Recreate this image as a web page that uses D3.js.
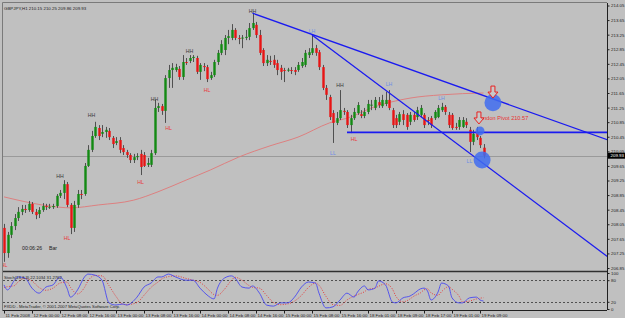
<!DOCTYPE html>
<html>
<head>
<meta charset="utf-8">
<script src="https://cdnjs.cloudflare.com/ajax/libs/d3/7.8.5/d3.min.js"></script>
<style>
  body { margin: 0; background: #c0c0c0; }
  svg { display: block; font-family: "Liberation Sans", Arial, sans-serif; }
</style>
</head>
<body>
<svg id="mainSvg"></svg>
<script>
// GBPJPY H1 candles, 11 Feb 16:00 .. 19 Feb 10:00
const opens = [
  207.95,207.26,207.76,208.00,208.22,208.39,208.47,208.44,208.61,208.39,
  208.33,208.44,208.55,208.52,208.52,208.55,208.83,208.91,209.15,208.58,
  207.95,208.58,208.88,208.88,209.65,210.09,210.47,210.69,210.53,210.58,
  210.61,210.42,210.28,210.36,210.14,210.03,209.95,209.81,209.89,209.98,
  209.95,209.68,209.68,210.00,211.24,211.29,211.16,212.06,212.28,212.28,
  212.31,212.09,212.50,212.53,212.61,212.61,212.23,212.39,212.36,212.06,
  212.14,212.50,212.75,212.83,213.16,213.16,213.38,213.16,213.16,213.16,
  213.19,213.43,213.52,213.24,212.83,212.47,212.53,212.56,212.47,212.34,
  212.28,212.28,212.28,212.28,212.28,212.39,212.42,212.69,212.75,212.88,
  212.77,212.36,211.79,211.54,211.10,210.83,210.96,211.16,211.13,210.77,
  210.96,211.10,211.07,211.02,211.13,211.32,211.24,211.40,211.29,211.35,
  211.46,211.18,210.96,210.86,211.07,211.05,210.86,211.05,210.99,211.05,
  211.05,210.91,210.96,210.96,210.99,211.18,211.27,211.05,211.05,210.72,
  210.72,210.72,210.86,210.64,210.31,210.58,210.42,210.15];
const highs = [
  208.06,207.84,208.11,208.33,208.52,208.58,208.58,208.69,208.66,208.47,
  208.52,208.63,208.61,208.61,208.61,208.88,208.99,209.26,209.21,208.63,
  208.69,208.99,208.99,209.73,210.22,210.61,210.86,210.77,210.77,210.72,
  210.69,210.47,210.44,210.44,210.22,210.09,210.00,209.98,210.00,210.09,
  210.03,209.87,210.09,211.46,211.38,211.35,212.14,212.42,212.47,212.45,
  212.39,212.69,212.61,212.69,212.69,212.67,212.47,212.47,212.42,212.23,
  212.56,212.83,213.10,213.24,213.38,213.54,213.43,213.24,213.24,213.38,
  213.57,213.84,213.60,213.38,212.88,212.69,212.67,212.69,212.56,212.42,
  212.34,212.34,212.36,212.36,212.50,212.61,212.83,212.88,213.24,212.97,
  212.83,212.42,211.87,211.60,211.18,211.13,211.73,211.24,211.18,211.05,
  211.24,211.40,211.18,211.24,211.46,211.46,211.54,211.54,211.60,211.68,
  211.73,211.24,211.05,211.13,211.18,211.10,211.13,211.13,211.27,211.32,
  211.10,210.99,211.02,211.18,211.32,211.38,211.32,211.13,211.10,210.83,
  210.99,210.99,210.96,210.72,210.64,210.72,210.47,210.25];
const lows = [
  207.02,207.13,207.67,207.89,208.14,208.30,208.36,208.39,208.33,208.19,
  208.22,208.39,208.44,208.47,208.47,208.50,208.77,208.74,208.52,207.78,
  207.84,208.50,208.74,208.83,209.62,210.03,210.42,210.36,210.44,210.42,
  210.36,210.14,210.22,210.00,209.95,209.87,209.73,209.73,209.81,209.40,
  209.62,209.62,209.62,209.95,211.13,211.05,210.83,211.79,211.79,212.23,
  212.01,212.01,212.42,212.47,212.50,212.17,212.01,212.25,211.95,212.01,
  212.09,212.42,212.69,212.69,212.99,213.10,213.10,212.99,212.88,213.10,
  213.10,213.38,213.16,212.69,212.39,212.39,212.42,212.34,212.14,212.01,
  211.95,212.23,212.17,212.14,212.23,212.34,212.36,212.61,212.69,212.67,
  212.28,211.73,211.46,210.91,210.28,210.77,210.91,211.05,210.69,210.55,
  210.91,211.05,210.96,210.96,211.07,211.18,211.18,211.24,211.24,211.29,
  211.18,210.69,210.69,210.77,210.77,210.64,210.77,210.86,210.91,210.99,
  210.69,210.77,210.69,210.91,210.96,211.13,211.05,210.69,210.64,210.64,
  210.64,210.69,210.69,210.03,210.22,210.36,210.14,209.86];
const closes = [
  207.26,207.76,208.00,208.22,208.39,208.47,208.44,208.61,208.39,208.30,
  208.44,208.55,208.52,208.53,208.55,208.83,208.91,209.15,208.58,207.95,
  208.58,208.88,208.87,209.65,210.09,210.47,210.72,210.47,210.58,210.64,
  210.44,210.25,210.33,210.09,210.03,209.95,209.81,209.89,209.92,209.62,
  209.65,209.73,210.00,211.24,211.29,211.16,212.06,212.28,212.34,212.36,
  212.09,212.50,212.49,212.61,212.64,212.23,212.42,212.36,212.03,212.14,
  212.50,212.75,212.99,213.16,213.21,213.38,213.16,213.15,213.17,213.19,
  213.43,213.57,213.24,212.75,212.47,212.56,212.52,212.42,212.28,212.23,
  212.27,212.29,212.27,212.23,212.42,212.50,212.75,212.77,212.88,212.75,
  212.36,211.79,211.60,210.99,210.83,210.96,211.18,211.15,210.77,210.96,
  211.13,211.32,211.02,211.13,211.35,211.33,211.46,211.32,211.46,211.46,
  211.24,210.77,210.77,211.07,210.91,210.72,211.05,210.91,211.18,211.24,
  210.77,210.90,210.77,211.13,211.24,211.27,211.13,210.77,210.69,210.71,
  210.91,210.91,210.77,210.31,210.53,210.44,210.22,209.93];

// moving average (pink line), sampled along the bars
const maBars   = [0, 4, 13, 19, 27, 37, 44, 52, 59, 67, 76, 84, 93, 99, 105, 116, 125, 137];
const maValues = [208.80,208.71,208.55,208.50,208.58,208.71,208.94,209.26,209.54,209.89,
                  210.20,210.44,210.83,210.99,211.24,211.51,211.60,211.65];

// Stochastic(13,3,3): main (blue) and signal (red dotted)
const stochBars   = [0,1,3,4,6,8,10,12,14,16,18,19,21,23,24,26,28,30,32,34,35,38,40,42,44,45,47,49,52,54,
                     56,58,60,61,63,65,66,68,70,71,73,75,77,79,81,83,85,87,89,90,92,94,96,98,100,101,103,104,106,107,
                     109,111,112,114,116,117,119,120,121,122,124,125,127,128,130,131,133,135,136,137];
const stochMain   = [67,53,80,89,86,58,44,61,67,89,58,33,53,89,97,94,80,17,11,14,11,33,61,72,89,89,97,89,80,80,
                     58,39,28,58,86,92,86,61,58,64,44,11,8,17,17,33,61,75,72,44,3,6,25,44,33,47,64,53,58,78,
                     67,19,17,31,36,42,56,58,50,25,47,72,64,31,17,17,31,33,25,22.1];
const stochSignal = [60,62,65,75,85,78,60,52,58,72,75,60,42,60,78,93,92,65,35,13,12,18,38,60,75,83,90,92,85,80,
                     74,58,40,38,55,80,88,80,65,60,58,38,18,12,14,22,38,60,72,66,35,12,10,25,36,40,48,55,58,63,
                     70,55,35,20,28,35,45,53,56,45,38,48,62,55,36,20,22,28,30,31.3];

// swing labels
const swingText  = ["HL","HH","HL","HH","HL","HH","HL","HH","HL","HH","LH","HH","LL","HL","LH","LH","LL"];
const swingBar   = [0, 16, 18, 25, 39, 43, 47, 53, 58, 71, 88, 96, 94, 100, 110, 125, 133];
const swingPrice = [206.93,209.37,207.67,211.05,209.21,211.49,210.69,212.80,211.73,213.90,
                    213.35,211.87,210.00,210.39,211.90,211.51,209.79];

// trend lines [bar, price] -> [bar, price]
const trendFrom = [[71, 213.84], [88, 213.24], [98, 210.57]];
const trendTo   = [[172.6, 210.36], [172.6, 207.15], [172.6, 210.57]];

const markerBar   = [139.7, 136.6, 136.0];
const markerPrice = [211.38, 209.81, 210.61];
const arrowBar    = [139.7, 135.7];
const arrowPrice  = [211.84, 211.13];

const priceTicks = [214.05,213.65,213.25,212.85,212.45,212.05,211.65,211.25,210.85,210.45,
                    210.05,209.65,209.25,208.85,208.45,208.05,207.65,207.25,206.85];
const stochTicks = [100, 80, 20, 0];
const timeBars   = [0,8,16,24,32,40,48,56,64,72,80,88,96,104,112,120,128,136];
const timeLabels = ["11 Feb 2008","12 Feb 00:00","12 Feb 08:00","12 Feb 16:00","13 Feb 00:00","13 Feb 08:00",
                    "13 Feb 16:00","14 Feb 00:00","14 Feb 08:00","14 Feb 16:00","15 Feb 00:00","15 Feb 08:00",
                    "15 Feb 16:00","18 Feb 01:00","18 Feb 09:00","18 Feb 17:00","19 Feb 01:00","19 Feb 09:00"];
const lastPrice = 209.93;
const pivotText = "London Pivot 210.57";

const W = 625, H = 318;
const box = { l: 3, t: 3, r: 607, sep: 271, b: 310 };

const svg = d3.select('#mainSvg').attr('width', W).attr('height', H);
svg.append('rect').attr('width', W).attr('height', H).attr('fill', '#c0c0c0');

const x = d3.scaleLinear().domain([0, 137]).range([4, 483.5]);
const y = d3.scaleLinear().domain([206.85, 214.05]).range([268, 5.5]);
const ys = d3.scaleLinear().domain([0, 100]).range([309, 273]);

svg.append('clipPath').attr('id', 'clipMain')
  .append('rect').attr('x', box.l).attr('y', box.t).attr('width', box.r - box.l).attr('height', box.sep - box.t);
svg.append('clipPath').attr('id', 'clipSub')
  .append('rect').attr('x', box.l).attr('y', box.sep + 1).attr('width', box.r - box.l).attr('height', box.b - box.sep - 1);

const plot = svg.append('g').attr('clip-path', 'url(#clipMain)');

// bid line
plot.append('line')
  .attr('x1', box.l).attr('x2', box.r)
  .attr('y1', Math.round(y(lastPrice)) + 0.5).attr('y2', Math.round(y(lastPrice)) + 0.5)
  .attr('stroke', '#9a9a9a');

// moving average
plot.append('path')
  .datum(maBars.map((b, i) => [b, maValues[i]]))
  .attr('fill', 'none').attr('stroke', '#e07878').attr('stroke-width', 0.9)
  .attr('d', d3.line().x(d => x(d[0])).y(d => y(d[1])).curve(d3.curveMonotoneX));

// candles
const bars = d3.range(opens.length);
const candle = plot.append('g').selectAll('g').data(bars).join('g');
candle.append('line')
  .attr('x1', i => Math.round(x(i)) + 0.5).attr('x2', i => Math.round(x(i)) + 0.5)
  .attr('y1', i => y(highs[i])).attr('y2', i => y(lows[i]))
  .attr('stroke', '#505050').attr('stroke-width', 1);
candle.append('rect')
  .attr('x', i => Math.round(x(i)) - 0.7)
  .attr('width', 2.4)
  .attr('y', i => y(Math.max(opens[i], closes[i])))
  .attr('height', i => Math.max(1, Math.abs(y(opens[i]) - y(closes[i]))))
  .attr('fill', i => closes[i] > opens[i] ? '#138a13' : (closes[i] < opens[i] ? '#e81414' : '#202020'));

// trend lines
plot.append('g').selectAll('line').data(trendFrom).join('line')
  .attr('x1', d => x(d[0])).attr('y1', d => y(d[1]))
  .attr('x2', (d, i) => x(trendTo[i][0])).attr('y2', (d, i) => y(trendTo[i][1]))
  .attr('stroke', '#1a1af0').attr('stroke-width', (d, i) => i === 2 ? 1.6 : 1.3);

// swing labels
plot.append('g').selectAll('text').data(swingText).join('text')
  .attr('x', (d, i) => x(swingBar[i]))
  .attr('y', (d, i) => y(swingPrice[i]) + 2)
  .attr('text-anchor', 'middle')
  .attr('font-size', 5.2)
  .attr('fill', d => d === 'HH' ? '#3a3a3a' : (d === 'HL' ? '#e83a3a' : '#6f8ee6'))
  .text(d => d);

// blue markers
plot.append('g').selectAll('circle').data(markerBar).join('circle')
  .attr('cx', d => x(d)).attr('cy', (d, i) => y(markerPrice[i]))
  .attr('r', (d, i) => i === 2 ? 4.5 : 8.5)
  .attr('fill', '#3f6cf0').attr('opacity', 0.85);

// pivot text
plot.append('text')
  .attr('x', x(arrowBar[1]) - 2).attr('y', y(arrowPrice[1]) + 8)
  .attr('font-size', 5.6).attr('fill', '#e83030')
  .text(pivotText);

// hollow down arrows
const arrowPath = 'M-2,0 h4 v6 h3 l-5,6 l-5,-6 h3 z';
plot.append('g').selectAll('path').data(arrowBar).join('path')
  .attr('transform', (d, i) => `translate(${x(d)},${y(arrowPrice[i])})`)
  .attr('d', arrowPath)
  .attr('fill', '#c8c8c8').attr('stroke', '#e82020').attr('stroke-width', 1);

// stochastic
const sub = svg.append('g').attr('clip-path', 'url(#clipSub)');
sub.append('g').selectAll('line').data([80, 20]).join('line')
  .attr('x1', box.l).attr('x2', box.r)
  .attr('y1', d => Math.round(ys(d)) + 0.5).attr('y2', d => Math.round(ys(d)) + 0.5)
  .attr('stroke', '#505050').attr('stroke-dasharray', '2,2');
const sline = d3.line().x(d => x(d[0])).y(d => ys(d[1])).curve(d3.curveMonotoneX);
sub.append('path')
  .datum(stochBars.map((b, i) => [b, stochSignal[i]]))
  .attr('fill', 'none').attr('stroke', '#e83030').attr('stroke-width', 0.9).attr('stroke-dasharray', '1,1.5')
  .attr('d', sline);
sub.append('path')
  .datum(stochBars.map((b, i) => [b, stochMain[i]]))
  .attr('fill', 'none').attr('stroke', '#4848f0').attr('stroke-width', 0.9)
  .attr('d', sline);

// frames
const frame = svg.append('g').attr('fill', 'none');
frame.append('path').attr('d', `M${box.l - 0.5},${box.b} V${box.t - 0.5} H${box.r}`).attr('stroke', '#7a7a7a');
frame.append('line').attr('x1', box.l).attr('x2', box.r).attr('y1', box.sep + 0.5).attr('y2', box.sep + 0.5)
  .attr('stroke', '#303030').attr('stroke-width', 1.5);

// price axis
const pAxis = svg.append('g').attr('transform', `translate(${box.r + 0.5},0)`)
  .call(d3.axisRight(y).tickValues(priceTicks).tickSize(2).tickPadding(1.5).tickFormat(d3.format('.2f')));
svg.append('line').attr('x1', box.r + 0.5).attr('x2', box.r + 0.5).attr('y1', box.t).attr('y2', box.b)
  .attr('stroke', '#202020');

const sAxis = svg.append('g').attr('transform', `translate(${box.r + 0.5},0)`)
  .call(d3.axisRight(ys).tickValues(stochTicks).tickSize(2).tickPadding(1.5));

const tAxis = svg.append('g').attr('transform', `translate(0,${box.b + 0.5})`)
  .call(d3.axisBottom(x).tickValues(timeBars).tickSize(3).tickPadding(0.5).tickFormat((d, i) => timeLabels[i]));
tAxis.selectAll('text').attr('text-anchor', 'start').attr('dx', 1);
tAxis.select('.domain').attr('d', `M${box.l - 0.5},0 H${box.r}`);

[pAxis, sAxis, tAxis].forEach(a => {
  a.selectAll('text').attr('font-size', 4.4).attr('fill', '#202020').attr('font-family', '"Liberation Sans", Arial, sans-serif');
  a.selectAll('line').attr('stroke', '#202020');
  a.select('.domain').attr('stroke', '#202020');
});
pAxis.select('.domain').remove();
sAxis.select('.domain').remove();

// current price tag
const tag = svg.append('g').attr('transform', `translate(${box.r + 1},${y(lastPrice)})`);
tag.append('rect').attr('x', 0).attr('y', -3).attr('width', 17).attr('height', 6).attr('fill', '#000');
tag.append('text').attr('x', 2.5).attr('y', 1.6).attr('font-size', 4.4).attr('fill', '#fff').text(d3.format('.2f')(lastPrice));

// texts
svg.append('text').attr('x', 4).attr('y', 9.5).attr('font-size', 4.4).attr('fill', '#202020')
  .text(`GBPJPY,H1  ${opens[opens.length - 1].toFixed(2)} ${highs[highs.length - 1].toFixed(2)} ${lows[lows.length - 1].toFixed(2)} ${closes[closes.length - 1].toFixed(2)}`);
svg.append('text').attr('x', 22).attr('y', 250).attr('font-size', 5.2).attr('fill', '#202020')
  .text('00:06:26');
svg.append('text').attr('x', 49).attr('y', 250).attr('font-size', 5.2).attr('fill', '#202020')
  .text('Bar');
svg.append('text').attr('x', 4).attr('y', 278.5).attr('font-size', 4.2).attr('fill', '#202020')
  .text('Stoch(13,3,3) 22.1034 31.2762');
svg.append('text').attr('x', 4).attr('y', 308).attr('font-size', 4.2).attr('fill', '#202020')
  .text('FXDD - MetaTrader, © 2001-2007 MetaQuotes Software Corp.');
</script>
</body>
</html>
